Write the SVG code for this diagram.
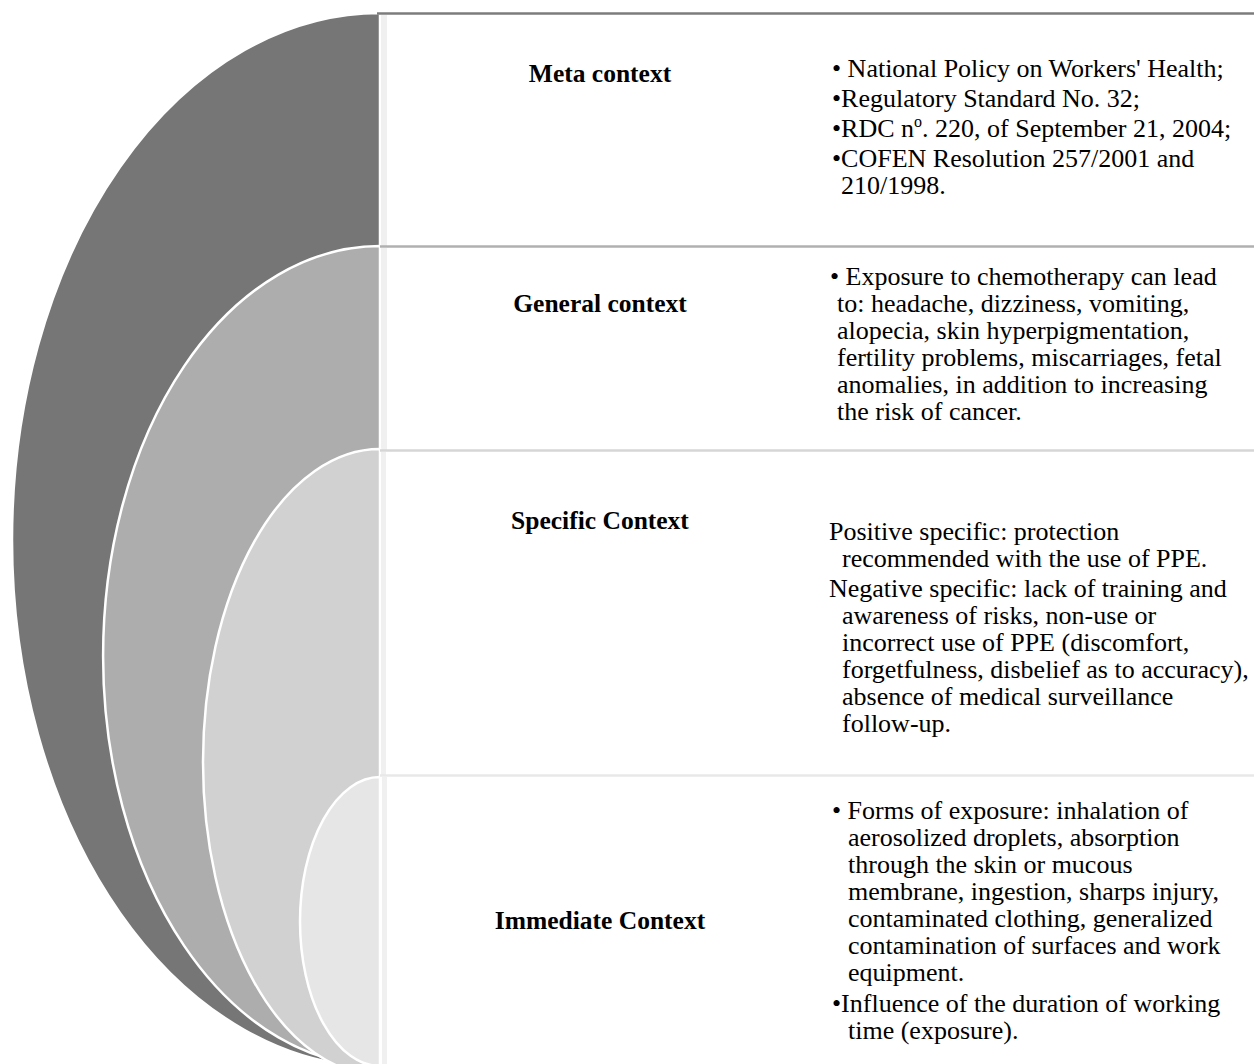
<svg xmlns="http://www.w3.org/2000/svg" width="1254" height="1064" viewBox="0 0 1254 1064">
  <style>
    .ring { stroke: #ffffff; stroke-width: 2.5; }
    .panel { fill: #ffffff; }
    .strip { fill: #f0f0f0; }
    .rule { stroke-width: 2.5; fill: none; }
    .label { font-family: "Liberation Serif", "Times New Roman", serif; font-size: 25.5px; font-weight: bold; fill: #000000; text-anchor: middle; }
    .body { font-family: "Liberation Serif", "Times New Roman", serif; font-size: 26px; fill: #000000; }
  </style>
  <rect width="1254" height="1064" fill="#ffffff"/>

  <!-- Meta context: outermost ring and its panel -->
  <g id="meta-context">
    <path class="ring" fill="#767676" d="M380,13 A368,527 0 0,0 380,1067 Z"/>
    <rect class="panel" x="380" y="13" width="874" height="233"/>
    <rect class="strip" x="381" y="15" width="6" height="231"/>
    <line class="rule" x1="377" y1="13.5" x2="1254" y2="13.5" stroke="#7c7c7c"/>
    <text class="label" x="600" y="82">Meta context</text>
    <text class="body" x="832" y="77">• National Policy on Workers' Health;</text>
    <text class="body" x="832" y="107">•Regulatory Standard No. 32;</text>
    <text class="body" x="832" y="137">•RDC n<tspan font-size="16" dy="-10">o</tspan><tspan dy="10">. 220, of September 21, 2004;</tspan></text>
    <text class="body" x="832" y="167">•COFEN Resolution 257/2001 and</text>
    <text class="body" x="841" y="194">210/1998.</text>
  </g>

  <!-- General context -->
  <g id="general-context">
    <path class="ring" fill="#adadad" d="M380,246 A277,410 0 0,0 380,1066 Z"/>
    <rect class="panel" x="380" y="246" width="874" height="204"/>
    <rect class="strip" x="381" y="248" width="6" height="202"/>
    <line class="rule" x1="380" y1="246.5" x2="1254" y2="246.5" stroke="#b0b0b0"/>
    <text class="label" x="600" y="312">General context</text>
    <text class="body" x="830" y="285">• Exposure to chemotherapy can lead</text>
    <text class="body" x="837" y="312">to: headache, dizziness, vomiting,</text>
    <text class="body" x="837" y="339">alopecia, skin hyperpigmentation,</text>
    <text class="body" x="837" y="366">fertility problems, miscarriages, fetal</text>
    <text class="body" x="837" y="393">anomalies, in addition to increasing</text>
    <text class="body" x="837" y="420">the risk of cancer.</text>
  </g>

  <!-- Specific context -->
  <g id="specific-context">
    <path class="ring" fill="#d1d1d1" d="M380,449 A177,313 0 0,0 380,1075 Z"/>
    <rect class="panel" x="380" y="450" width="874" height="325"/>
    <rect class="strip" x="381" y="452" width="5" height="323"/>
    <line class="rule" x1="380" y1="450.5" x2="1254" y2="450.5" stroke="#d6d6d6"/>
    <text class="label" x="600" y="529">Specific Context</text>
    <text class="body" x="829" y="540">Positive specific: protection</text>
    <text class="body" x="842" y="567">recommended with the use of PPE.</text>
    <text class="body" x="829" y="597">Negative specific: lack of training and</text>
    <text class="body" x="842" y="624">awareness of risks, non-use or</text>
    <text class="body" x="842" y="651">incorrect use of PPE (discomfort,</text>
    <text class="body" x="842" y="678">forgetfulness, disbelief as to accuracy),</text>
    <text class="body" x="842" y="705">absence of medical surveillance</text>
    <text class="body" x="842" y="732">follow-up.</text>
  </g>

  <!-- Immediate context: innermost ring -->
  <g id="immediate-context">
    <path class="ring" fill="#e6e6e6" d="M380,777 A80,144.5 0 0,0 380,1066 Z"/>
    <rect class="panel" x="380" y="775" width="874" height="289"/>
    <rect class="strip" x="382" y="777" width="5" height="287"/>
    <line class="rule" x1="380" y1="775.5" x2="1254" y2="775.5" stroke="#e8e8e8"/>
    <text class="label" x="600" y="929">Immediate Context</text>
    <text class="body" x="832" y="819">• Forms of exposure: inhalation of</text>
    <text class="body" x="848" y="846">aerosolized droplets, absorption</text>
    <text class="body" x="848" y="873">through the skin or mucous</text>
    <text class="body" x="848" y="900">membrane, ingestion, sharps injury,</text>
    <text class="body" x="848" y="927">contaminated clothing, generalized</text>
    <text class="body" x="848" y="954">contamination of surfaces and work</text>
    <text class="body" x="848" y="981">equipment.</text>
    <text class="body" x="832" y="1012">•Influence of the duration of working</text>
    <text class="body" x="848" y="1039">time (exposure).</text>
  </g>
</svg>
